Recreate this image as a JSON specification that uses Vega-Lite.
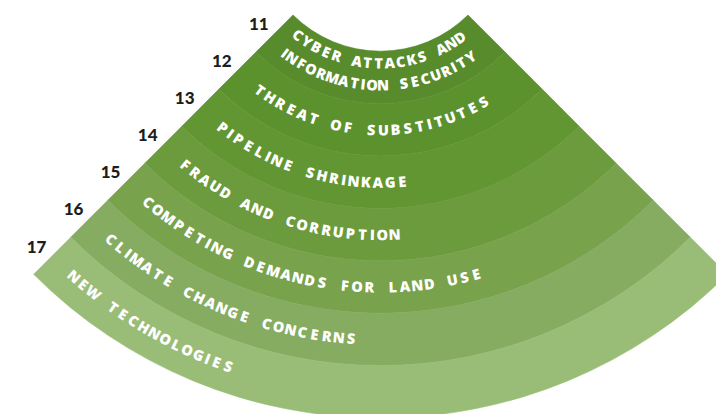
{
  "$schema": "https://vega.github.io/schema/vega-lite/v6.json",
  "width": 716,
  "height": 414,
  "autosize": {"type": "none"},
  "padding": 0,
  "background": "white",
  "config": {"view": {"stroke": null}},
  "data": {
    "values": [
      {"rank": 11, "line": 1, "text": "CYBER ATTACKS AND"},
      {"rank": 11, "line": 2, "text": "INFORMATION SECURITY"},
      {"rank": 12, "line": 1, "text": "THREAT OF SUBSTITUTES"},
      {"rank": 13, "line": 1, "text": "PIPELINE SHRINKAGE"},
      {"rank": 14, "line": 1, "text": "FRAUD AND CORRUPTION"},
      {"rank": 15, "line": 1, "text": "COMPETING DEMANDS FOR LAND USE"},
      {"rank": 16, "line": 1, "text": "CLIMATE CHANGE CONCERNS"},
      {"rank": 17, "line": 1, "text": "NEW TECHNOLOGIES"}
    ]
  },
  "layer": [
    {
      "transform": [
        {"filter": "datum.line == 1"},
        {"calculate": "datum.rank - 1", "as": "inner"}
      ],
      "mark": {"type": "arc", "x": 380.5, "y": -72.5, "theta": 2.35619, "theta2": 3.92699, "strokeWidth": 0.6},
      "encoding": {
        "radius": {"field": "rank", "type": "quantitative", "scale": {"type": "linear", "zero": false, "domain": [10, 17], "range": [123.7, 490.5]}},
        "radius2": {"field": "inner"},
        "color": {"field": "rank", "type": "ordinal", "legend": null, "scale": {"range": ["#578b2c", "#5c922e", "#629632", "#6b9b3d", "#78a24c", "#85ac60", "#99bd77"]}},
        "stroke": {"field": "rank", "type": "ordinal", "legend": null, "scale": {"range": ["#578b2c", "#5c922e", "#629632", "#6b9b3d", "#78a24c", "#85ac60", "#99bd77"]}}
      }
    },
    {
      "transform": [
        {"filter": "datum.line == 1"},
        {"calculate": "datum.rank - 0.4", "as": "pos"}
      ],
      "mark": {"type": "text", "x": 380.5, "y": -72.5, "dx": -12, "dy": -12, "font": "Lato", "fontSize": 17, "fontWeight": 900, "color": "#1d1d1b", "align": "center", "baseline": "middle"},
      "encoding": {
        "theta": {"value": 3.92699},
        "radius": {"field": "pos", "type": "quantitative"},
        "text": {"field": "rank"}
      }
    },
    {
      "transform": [
        {"calculate": "split(datum.text, '')", "as": "chars"},
        {"flatten": ["chars"], "as": ["ch"]},
        {"calculate": "datum.ch == 'I' ? 0.6 : datum.ch == ' ' ? 0.9 : (datum.ch == 'M' || datum.ch == 'W') ? 1.15 : 1", "as": "w"},
        {"window": [{"op": "sum", "field": "w", "as": "cum"}], "groupby": ["rank", "line"], "frame": [null, 0]},
        {"joinaggregate": [{"op": "sum", "field": "w", "as": "tot"}], "groupby": ["rank", "line"]},
        {"calculate": "datum.cum - datum.w / 2", "as": "s"},
        {"calculate": "datum.rank == 11 ? (datum.line == 1 ? 10.254 : 10.674) : datum.rank - 0.47", "as": "pos"},
        {"calculate": "123.7 + 52.4 * (datum.pos - 10)", "as": "r"},
        {"calculate": "datum.rank == 11 ? (PI * 180.8 / 180 - (datum.s - datum.tot / 2) * 11.1 / datum.r) : (PI * 1.25 - (24 + datum.s * 12.3) / datum.r)", "as": "th"},
        {"calculate": "datum.th * 180 / PI - 180", "as": "ang"}
      ],
      "mark": {"type": "text", "x": 380.5, "y": -72.5, "font": "Open Sans", "fontSize": 14.5, "fontWeight": 800, "color": "white", "align": "center", "baseline": "middle"},
      "encoding": {
        "theta": {"field": "th", "type": "quantitative", "scale": null, "stack": null},
        "radius": {"field": "pos", "type": "quantitative"},
        "angle": {"field": "ang", "type": "quantitative", "scale": null},
        "text": {"field": "ch"}
      }
    }
  ]
}
